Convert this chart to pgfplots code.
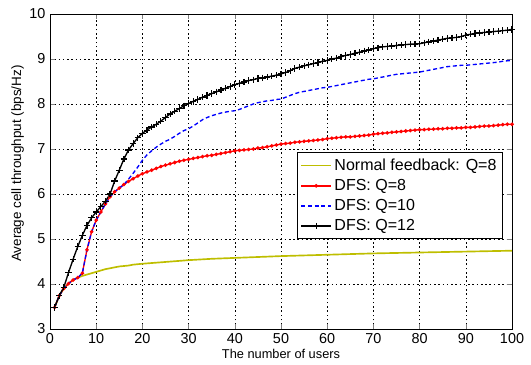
\documentclass[border=0pt]{standalone}
\usepackage{pgfplots}
\pgfplotsset{compat=1.18}
\usepackage{fontspec}
\setmainfont{Liberation Sans}
\definecolor{olivey}{RGB}{190,190,0}
\definecolor{mred}{RGB}{255,0,0}
\definecolor{mblue}{RGB}{0,0,255}
\begin{document}
\begin{tikzpicture}[x=1pt,y=1pt]
\begin{axis}[
  scale only axis,
  width=346.5pt, height=236.25pt,
  xmin=0, xmax=100, ymin=3, ymax=10,
  xtick={0,10,...,100}, ytick={3,4,...,10},
  tick align=inside, tickpos=both,
  major tick length=4pt,
  grid=major,
  major grid style={black, line width=0.35pt, dash pattern=on 1.2pt off 2pt},
  axis line style={black, line width=0.6pt},
  /pgf/number format/assume math mode=true,
  tick label style={font=\fontsize{10.8}{12}\selectfont},
  xlabel style={font=\fontsize{9.6}{11}\selectfont},
  ylabel style={font=\fontsize{10.1}{12}\selectfont},
  xlabel={The number of users},
  ylabel={Average cell throughput (bps/Hz)},
  xlabel style={at={(0.5,0)}, anchor=north, yshift=-12pt},
  ylabel style={at={(0,0.525)}, anchor=south, yshift=16pt},
  legend style={at={(0.98,0.286)}, anchor=south east, draw=black, fill=white,
    font=\fontsize{12}{14}\selectfont, row sep=1.2pt, inner sep=2.5pt,
    legend cell align=left},
  legend image post style={xscale=1.3},
]
% Normal feedback Q=8
\addplot[color=olivey, line width=1.25pt] coordinates {
(1,3.48)(2,3.74)(3,3.90)(4,4.01)(5,4.09)(6,4.14)(7,4.18)(8,4.21)(9,4.24)(10,4.27)
(11,4.30)(12,4.33)(13,4.35)(14,4.37)(15,4.39)(16,4.40)(17,4.41)(18,4.43)(19,4.44)(20,4.45)
(25,4.49)(30,4.53)(35,4.56)(40,4.58)(45,4.60)(50,4.62)(55,4.635)(60,4.65)(65,4.665)(70,4.68)
(75,4.69)(80,4.70)(85,4.71)(90,4.72)(95,4.73)(100,4.74)};
\addlegendentry{Normal feedback: Q=8}
% DFS Q=8
\addplot[color=mred, line width=1pt, mark=*, mark size=0.8pt] coordinates {
(1,3.48)(2,3.74)(3,3.90)(4,4.01)(5,4.09)(6,4.14)(7,4.24)(8,4.76)(9,5.16)(10,5.42)
(11,5.60)(12,5.78)(13,5.94)(14,6.05)(15,6.13)(16,6.21)(17,6.28)(18,6.34)(19,6.40)(20,6.45)
(21,6.49)(22,6.53)(23,6.57)(24,6.61)(25,6.64)(26,6.67)(27,6.70)(28,6.73)(29,6.75)(30,6.77)
(31,6.79)(32,6.81)(33,6.83)(34,6.85)(35,6.86)(36,6.88)(37,6.90)(38,6.92)(39,6.94)(40,6.96)
(41,6.97)(42,6.98)(43,6.99)(44,7.00)(45,7.02)(46,7.03)(47,7.05)(48,7.07)(49,7.09)(50,7.11)
(51,7.12)(52,7.13)(53,7.15)(54,7.16)(55,7.17)(56,7.18)(57,7.19)(58,7.20)(59,7.21)(60,7.23)
(61,7.24)(62,7.25)(63,7.26)(64,7.27)(65,7.27)(66,7.28)(67,7.29)(68,7.30)(69,7.31)(70,7.33)
(71,7.34)(72,7.35)(73,7.36)(74,7.37)(75,7.38)(76,7.39)(77,7.40)(78,7.41)(79,7.42)(80,7.43)
(81,7.43)(82,7.44)(83,7.44)(84,7.45)(85,7.45)(86,7.46)(87,7.46)(88,7.47)(89,7.47)(90,7.48)
(91,7.48)(92,7.49)(93,7.50)(94,7.51)(95,7.51)(96,7.52)(97,7.53)(98,7.54)(99,7.55)(100,7.55)};
\addlegendentry{DFS: Q=8}
% DFS Q=10
\addplot[color=mblue, line width=1pt, dash pattern=on 3pt off 2pt] coordinates {
(1,3.48)(2,3.74)(3,3.90)(4,4.01)(5,4.09)(6,4.14)(7,4.24)(8,4.76)(9,5.16)(10,5.42)
(11,5.60)(12,5.78)(13,5.94)(14,6.05)(15,6.13)(16,6.21)(17,6.33)(18,6.46)(19,6.60)(20,6.75)
(21,6.87)(22,6.96)(23,7.04)(24,7.11)(25,7.17)(26,7.22)(27,7.28)(28,7.35)(29,7.41)(30,7.45)
(31,7.51)(32,7.58)(33,7.65)(34,7.70)(35,7.74)(36,7.77)(37,7.80)(38,7.82)(39,7.84)(40,7.85)
(41,7.88)(42,7.92)(43,7.96)(44,8.00)(45,8.03)(46,8.05)(47,8.07)(48,8.08)(49,8.10)(50,8.11)
(51,8.15)(52,8.19)(53,8.23)(54,8.26)(55,8.28)(56,8.30)(57,8.32)(58,8.34)(59,8.36)(60,8.37)
(61,8.39)(62,8.41)(63,8.43)(64,8.45)(65,8.47)(66,8.49)(67,8.51)(68,8.53)(69,8.55)(70,8.56)
(71,8.58)(72,8.60)(73,8.62)(74,8.64)(75,8.66)(76,8.67)(77,8.68)(78,8.69)(79,8.70)(80,8.71)
(81,8.73)(82,8.75)(83,8.77)(84,8.79)(85,8.81)(86,8.83)(87,8.84)(88,8.85)(89,8.86)(90,8.86)
(91,8.87)(92,8.88)(93,8.89)(94,8.90)(95,8.91)(96,8.92)(97,8.93)(98,8.95)(99,8.96)(100,8.97)};
\addlegendentry{DFS: Q=10}
% DFS Q=12
\addplot[color=black, line width=1pt, mark=+, mark size=2.4pt, mark options={line width=0.9pt}] coordinates {
(1,3.48)(2,3.74)(3,3.93)(4,4.25)(5,4.55)(6,4.83)(7,5.08)(8,5.30)(9,5.47)(10,5.60)
(11,5.72)(12,5.84)(13,6.00)(14,6.29)(15,6.53)(16,6.78)(17,6.98)(18,7.12)(19,7.25)(20,7.35)
(21,7.42)(22,7.49)(23,7.55)(24,7.62)(25,7.70)(26,7.78)(27,7.84)(28,7.90)(29,7.96)(30,8.01)
(31,8.06)(32,8.10)(33,8.15)(34,8.19)(35,8.23)(36,8.27)(37,8.31)(38,8.35)(39,8.39)(40,8.43)
(41,8.46)(42,8.49)(43,8.52)(44,8.54)(45,8.57)(46,8.58)(47,8.60)(48,8.62)(49,8.64)(50,8.67)
(51,8.70)(52,8.74)(53,8.79)(54,8.82)(55,8.85)(56,8.87)(57,8.90)(58,8.92)(59,8.95)(60,8.97)
(61,9.00)(62,9.02)(63,9.05)(64,9.08)(65,9.10)(66,9.13)(67,9.15)(68,9.18)(69,9.20)(70,9.23)
(71,9.25)(72,9.27)(73,9.28)(74,9.29)(75,9.30)(76,9.31)(77,9.32)(78,9.33)(79,9.33)(80,9.34)
(81,9.36)(82,9.38)(83,9.40)(84,9.42)(85,9.44)(86,9.46)(87,9.47)(88,9.48)(89,9.50)(90,9.53)
(91,9.55)(92,9.57)(93,9.58)(94,9.59)(95,9.60)(96,9.61)(97,9.62)(98,9.63)(99,9.64)(100,9.66)};
\addlegendentry{DFS: Q=12}
\end{axis}
\pgfresetboundingbox
\path (-37.5pt,-26.25pt) rectangle (360.75pt,246.75pt);
\end{tikzpicture}
\end{document}
